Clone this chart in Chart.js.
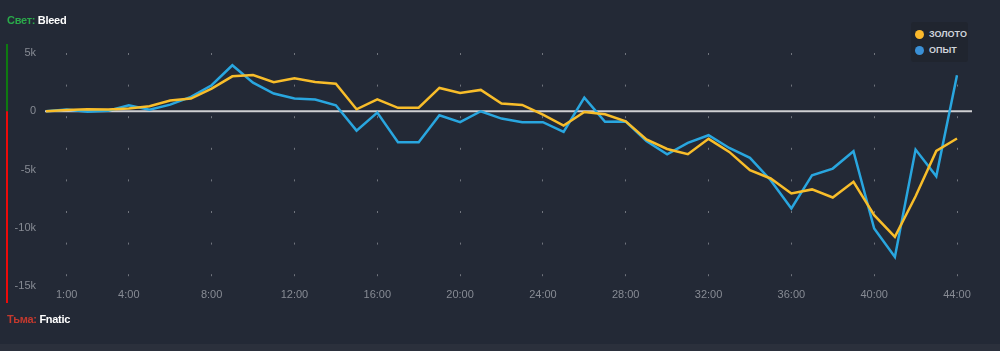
<!DOCTYPE html>
<html>
<head>
<meta charset="utf-8">
<script src="https://cdn.jsdelivr.net/npm/chart.js@4"></script>
<style>
  html, body { margin: 0; padding: 0; background: #232936; overflow: hidden; }
  .wrap { position: relative; width: 1000px; height: 351px; background: #232936; font-family: "Liberation Sans", Arial, sans-serif; }
  .wrap canvas { position: absolute; left: 0; top: 0; }
  .side { position: absolute; left: 7px; font-size: 11px; font-weight: bold; letter-spacing: -0.3px; }
  .side .team { color: #ffffff; }
  #sideLight { top: 14px; color: #2aa94a; }
  #sideDark { top: 313px; color: #c4392e; }
  .footer { position: absolute; left: 0; right: 0; top: 344px; bottom: 0; background: #2b303c; }
  #legenda { position: absolute; left: 911px; top: 22px; width: 57px; height: 40px; background: #20252f; border-radius: 3px; }
  .item { position: absolute; left: 4px; height: 12px; display: flex; align-items: center; font-size: 9px; font-weight: bold; color: #cfd3da; text-transform: uppercase; }
  .item .dot { width: 9px; height: 9px; border-radius: 50%; margin-right: 5px; }
</style>
</head>
<body>
<div class="wrap">
  <canvas id="grafico" width="1000" height="351"></canvas>
  <div class="side" id="sideLight">Свет: <span class="team">Bleed</span></div>
  <div class="side" id="sideDark">Тьма: <span class="team">Fnatic</span></div>
  <div id="legenda"></div>
  <div class="footer"></div>
</div>
<script>
const minutos = ['0:00','1:00','2:00','3:00','4:00','5:00','6:00','7:00','8:00','9:00',
  '10:00','11:00','12:00','13:00','14:00','15:00','16:00','17:00','18:00','19:00',
  '20:00','21:00','22:00','23:00','24:00','25:00','26:00','27:00','28:00','29:00',
  '30:00','31:00','32:00','33:00','34:00','35:00','36:00','37:00','38:00','39:00',
  '40:00','41:00','42:00','43:00','44:00'];
const ticksVisiveis = ['1:00','4:00','8:00','12:00','16:00','20:00','24:00','28:00','32:00','36:00','40:00','44:00'];

const ouro = [0, 100, 170, 150, 230, 430, 920, 1090, 1950, 3000,
  3110, 2490, 2830, 2510, 2370, 170, 1030, 290, 300, 2000,
  1570, 1830, 660, 540, -290, -1230, -60, -260, -860, -2420,
  -3240, -3690, -2370, -3490, -5060, -5770, -7060, -6710, -7400, -6060,
  -8920, -10780, -7300, -3400, -2340];
const experiencia = [0, 150, -50, 50, 510, 140, 570, 1230, 2230, 3950,
  2460, 1520, 1090, 1000, 510, -1660, -110, -2660, -2660, -340,
  -940, 0, -630, -940, -940, -1770, 1170, -910, -880, -2560,
  -3690, -2720, -2060, -3150, -4000, -5920, -8350, -5490, -4920, -3430,
  -10060, -12500, -3290, -5580, 3100];

const yValores = [5000, 0, -5000, -10000, -15000];
const yRotulos = ['5k', '0', '-5k', '-10k', '-15k'];

const series = [
  { nome: 'золото', dados: ouro, cor: '#f8bd2a', corLegenda: '#fbb92c' },
  { nome: 'опыт', dados: experiencia, cor: '#29a6df', corLegenda: '#3a90d6' }
];

// legenda em html
const legenda = document.getElementById('legenda');
series.forEach((s, i) => {
  const div = document.createElement('div');
  div.className = 'item';
  div.style.top = (6 + i * 16) + 'px';
  div.innerHTML = `<span class="dot" style="background:${s.corLegenda}"></span>${s.nome}`;
  legenda.appendChild(div);
});

// linha do zero e barra lateral verde/vermelha
const linhaZero = {
  id: 'linhaZero',
  beforeDraw(chart) {
    const ctx = chart.ctx;
    const area = chart.chartArea;
    const y0 = chart.scales.y.getPixelForValue(0);
    ctx.save();
    ctx.fillStyle = '#0e7a10';
    ctx.fillRect(6, area.top - 9, 2, y0 - area.top + 9);
    ctx.fillStyle = '#ee0a0a';
    ctx.fillRect(6, y0, 2, area.bottom + 17 - y0);
    ctx.restore();
  },
  beforeDatasetsDraw(chart) {
    const ctx = chart.ctx;
    const area = chart.chartArea;
    const y0 = chart.scales.y.getPixelForValue(0);
    ctx.save();
    ctx.strokeStyle = '#cfcfd2';
    ctx.lineWidth = 2;
    ctx.beginPath();
    ctx.moveTo(area.left - 1, y0);
    ctx.lineTo(area.right + 15, y0);
    ctx.stroke();
    ctx.restore();
  }
};

Chart.defaults.font.family = '"Liberation Sans", Arial, sans-serif';

new Chart(document.getElementById('grafico'), {
  type: 'line',
  data: {
    labels: minutos,
    datasets: series.map(s => ({
      label: s.nome,
      data: s.dados,
      borderColor: s.cor,
      backgroundColor: s.cor,
      borderWidth: 2.5,
      pointRadius: 0,
      tension: 0,
      fill: false
    }))
  },
  options: {
    responsive: false,
    animation: false,
    events: [],
    layout: { padding: { left: 0, right: 43, top: 53, bottom: 49 } },
    plugins: {
      legend: { display: false },
      tooltip: { enabled: false }
    },
    scales: {
      x: {
        type: 'category',
        offset: false,
        grid: { display: true, color: '#70747d', lineWidth: 1, drawTicks: false },
        border: { display: false, dash: [2, 29.6] },
        ticks: {
          autoSkip: false,
          maxRotation: 0,
          padding: 2,
          color: '#878b94',
          font: { size: 11 },
          callback: (v, i) => ticksVisiveis.includes(minutos[i]) ? minutos[i] : null
        },
        afterFit: s => { s.height = 16; }
      },
      y: {
        min: -15000,
        max: 5000,
        grid: { display: false, drawTicks: false },
        border: { display: false },
        afterBuildTicks: s => { s.ticks = yValores.map(v => ({ value: v })); },
        afterFit: s => { s.width = 46; },
        ticks: {
          padding: 10,
          color: '#878b94',
          font: { size: 11 },
          callback: v => yRotulos[yValores.indexOf(v)]
        }
      }
    }
  },
  plugins: [linhaZero]
});
</script>
</body>
</html>
